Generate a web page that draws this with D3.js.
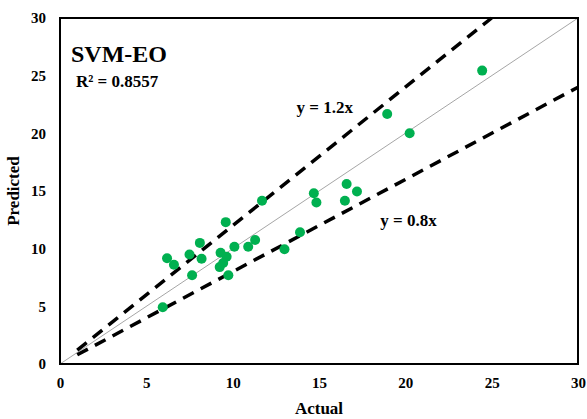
<!DOCTYPE html>
<html>
<head>
<meta charset="utf-8">
<script src="https://cdn.jsdelivr.net/npm/d3@7"></script>
<style>
  body { margin: 0; background: #fff; }
  text { font-family: "Liberation Serif", "Times New Roman", serif; font-weight: bold; }
</style>
</head>
<body>
<svg id="chart" width="587" height="419"></svg>
<script>
var actual = [6.2, 6.6, 7.5, 8.1, 8.2, 7.65, 9.6, 9.3, 9.65, 9.45, 9.25, 9.75, 10.1, 10.9, 11.3, 11.7, 13.0, 13.9, 14.7, 14.85, 16.6, 17.2, 16.5, 5.95, 24.45, 18.95, 20.25];
var predicted = [9.17, 8.6, 9.5, 10.5, 9.13, 7.7, 12.3, 9.65, 9.3, 8.75, 8.4, 7.7, 10.17, 10.17, 10.75, 14.16, 9.95, 11.42, 14.8, 14.0, 15.6, 14.95, 14.15, 4.92, 25.44, 21.68, 20.0];
var xTicks = [0, 5, 10, 15, 20, 25, 30];
var yTicks = [0, 5, 10, 15, 20, 25, 30];
var bounds = [
  {label: "y = 1.2x", slope: 1.2},
  {label: "y = 0.8x", slope: 0.8}
];

var margin = {top: 18, right: 9, bottom: 55, left: 60},
    width = 587 - margin.left - margin.right,
    height = 419 - margin.top - margin.bottom;

var svg = d3.select("#chart")
  .append("g")
  .attr("transform", "translate(" + margin.left + "," + margin.top + ")");

var x = d3.scaleLinear().domain([0, 30]).range([0, width]);
var y = d3.scaleLinear().domain([0, 30]).range([height, 0]);

// tick labels only, the original has no tick marks
var xAxis = svg.append("g")
  .attr("transform", "translate(0," + height + ")")
  .call(d3.axisBottom(x).tickValues(xTicks).tickSize(0).tickPadding(13));
xAxis.select(".domain").remove();
xAxis.selectAll("text").style("font-size", "15px").style("font-family", "Liberation Serif").style("font-weight", "bold");

var yAxis = svg.append("g")
  .call(d3.axisLeft(y).tickValues(yTicks).tickSize(0).tickPadding(14));
yAxis.select(".domain").remove();
yAxis.selectAll("text").style("font-size", "15px").style("font-family", "Liberation Serif").style("font-weight", "bold");

// 1:1 line
svg.append("line")
  .attr("x1", x(0)).attr("y1", y(0))
  .attr("x2", x(30)).attr("y2", y(30))
  .attr("stroke", "#a6a6a6")
  .attr("stroke-width", 1);

// +-20% lines
var line = d3.line().x(function(d) { return x(d[0]); }).y(function(d) { return y(d[1]); });
bounds.forEach(function(b) {
  var xEnd = Math.min(30, 30 / b.slope);
  svg.append("path")
    .attr("d", line([[1, b.slope], [xEnd, xEnd * b.slope]]))
    .attr("fill", "none")
    .attr("stroke", "#000")
    .attr("stroke-width", 3.5)
    .attr("stroke-dasharray", "12,8");
});

// points
svg.selectAll("circle.pt")
  .data(actual)
  .join("circle")
  .attr("class", "pt")
  .attr("cx", function(d) { return x(d); })
  .attr("cy", function(d, i) { return y(predicted[i]); })
  .attr("r", 5)
  .attr("fill", "#00b050");

// frame
svg.append("rect")
  .attr("x", 0).attr("y", 0)
  .attr("width", width).attr("height", height)
  .attr("fill", "none")
  .attr("stroke", "#000")
  .attr("stroke-width", 2);

// labels
svg.append("text")
  .attr("x", x(13.7)).attr("y", y(21.8))
  .text(bounds[0].label)
  .style("font-size", "17px");
svg.append("text")
  .attr("x", x(18.55)).attr("y", y(12.0))
  .text(bounds[1].label)
  .style("font-size", "17px");

svg.append("text")
  .attr("x", 11).attr("y", 44)
  .text("SVM-EO")
  .style("font-size", "24px");
svg.append("text")
  .attr("x", 16).attr("y", 69)
  .text("R² = 0.8557")
  .style("font-size", "17px");

svg.append("text")
  .attr("x", width / 2).attr("y", height + 50)
  .attr("text-anchor", "middle")
  .text("Actual")
  .style("font-size", "17px");

svg.append("text")
  .attr("transform", "translate(-41," + (height / 2) + ")rotate(-90)")
  .attr("text-anchor", "middle")
  .text("Predicted")
  .style("font-size", "17px");
</script>
</body>
</html>
